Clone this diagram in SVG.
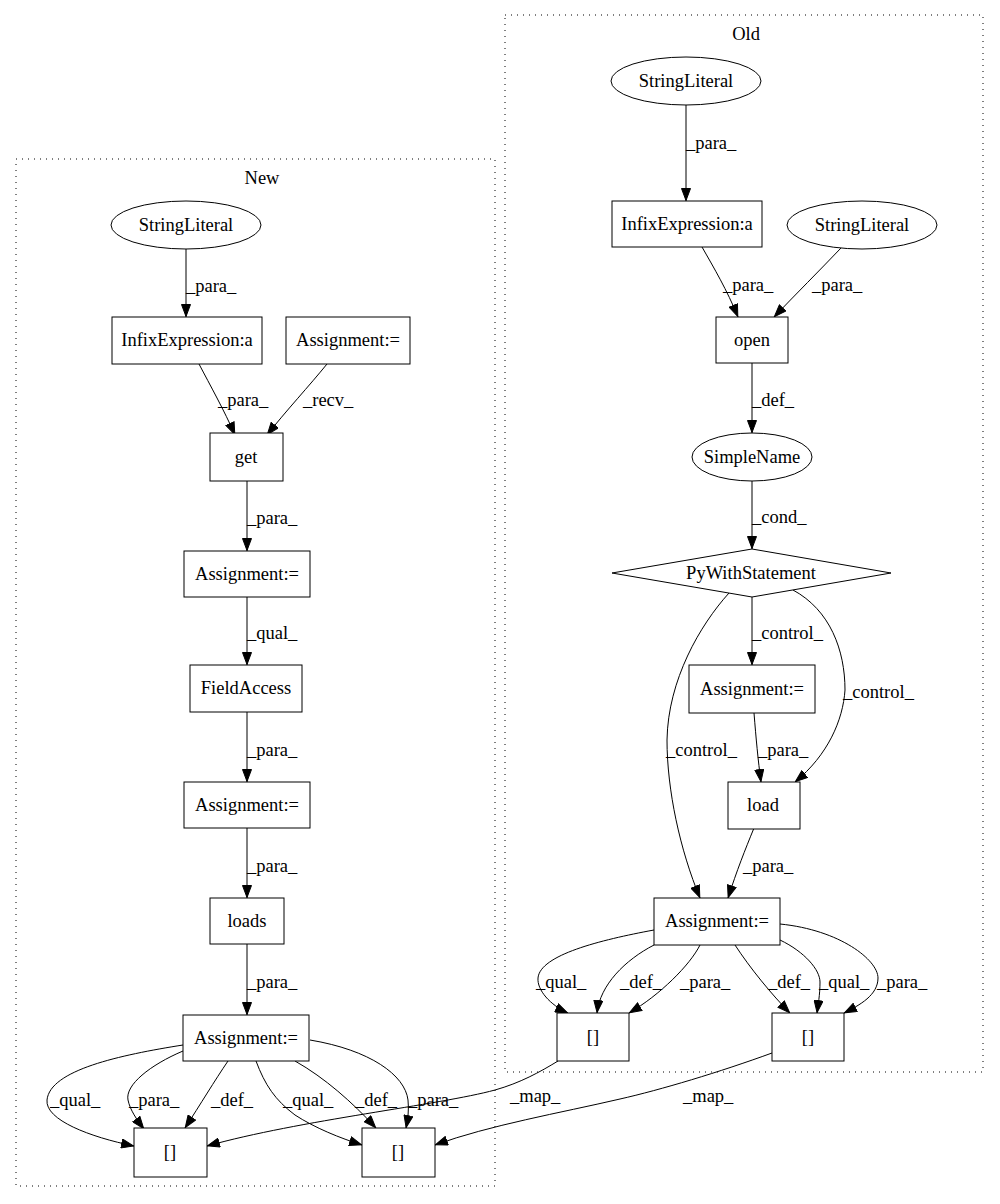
<svg xmlns="http://www.w3.org/2000/svg" width="1000" height="1204" viewBox="0 0 1000 1204">
  <style>
    text { font-family: "Liberation Serif", "Times New Roman", serif; font-size: 18.5px; fill: #000; }
    .n { text-anchor: middle; }
    .node rect, .node ellipse, .node polygon { fill: #fff; stroke: #000; stroke-width: 1; }
    .cluster rect { fill: none; stroke: #000; stroke-width: 1; stroke-dasharray: 1 5; }
    .edges path { fill: none; stroke: #000; stroke-width: 1; marker-end: url(#arr); }
  </style>
  <defs>
    <marker id="arr" markerWidth="13" markerHeight="10" refX="13" refY="5" orient="auto" markerUnits="userSpaceOnUse">
      <path d="M0.5,0.5 L12.5,5 L0.5,9.5 Z" fill="#000" stroke="#000" stroke-width="1"/>
    </marker>
  </defs>
  <rect width="1000" height="1204" fill="#fff"/>

  <!-- clusters -->
  <g class="cluster" id="cluster_new">
    <rect x="16" y="159" width="479" height="1027"/>
    <text class="n" x="262" y="184">New</text>
  </g>
  <g class="cluster" id="cluster_old">
    <rect x="505" y="15" width="478" height="1057"/>
    <text class="n" x="746" y="40">Old</text>
  </g>

  <!-- connectors -->
  <g class="edges" id="edges">
    <!-- New -->
    <path d="M186,249 L186,317"/>
    <text x="186" y="292">_para_</text>
    <path d="M199,364 C210,385 224,410 235,435"/>
    <text x="218" y="406">_para_</text>
    <path d="M327,364 C310,385 285,412 267,435"/>
    <text x="303" y="406">_recv_</text>
    <path d="M247,481 L247,551"/>
    <text x="247" y="524">_para_</text>
    <path d="M247,597 L247,665"/>
    <text x="247" y="639">_qual_</text>
    <path d="M247,712 L247,782"/>
    <text x="247" y="756">_para_</text>
    <path d="M247,828 L247,898"/>
    <text x="247" y="872">_para_</text>
    <path d="M247,944 L247,1015"/>
    <text x="247" y="988">_para_</text>

    <path d="M183,1045 C120,1055 50,1070 47,1100 C45,1120 90,1137 134,1146"/>
    <text x="50" y="1106">_qual_</text>
    <path d="M183,1051 C150,1065 125,1085 128,1100 C130,1110 137,1120 144,1129"/>
    <text x="129" y="1106">_para_</text>
    <path d="M228,1061 C215,1080 200,1105 185,1128"/>
    <text x="211" y="1106">_def_</text>
    <path d="M256,1061 C265,1085 275,1100 295,1115 C315,1128 340,1138 362,1145"/>
    <text x="283" y="1106">_qual_</text>
    <path d="M295,1061 C325,1078 352,1102 376,1128"/>
    <text x="355" y="1106">_def_</text>
    <path d="M310,1040 C370,1050 405,1075 408,1100 C409,1110 408,1118 406,1128"/>
    <text x="408" y="1106">_para_</text>

    <path d="M558,1061 C540,1072 520,1083 495,1090 C440,1105 300,1120 207,1146"/>
    <text x="510" y="1102">_map_</text>
    <path d="M772,1053 C720,1072 660,1090 620,1099 C560,1113 490,1125 435,1145"/>
    <text x="683" y="1102">_map_</text>

    <!-- Old -->
    <path d="M686,105 L686,201"/>
    <text x="686" y="149">_para_</text>
    <path d="M702,247 C714,268 727,290 738,317"/>
    <text x="723" y="291">_para_</text>
    <path d="M841,248 C820,270 795,295 774,317"/>
    <text x="812" y="291">_para_</text>
    <path d="M752,363 L752,433"/>
    <text x="752" y="406">_def_</text>
    <path d="M752,481 L752,549"/>
    <text x="752" y="523">_cond_</text>
    <path d="M752,597 L752,665"/>
    <text x="752" y="639">_control_</text>
    <path d="M793,590 C830,610 845,650 845,690 C843,720 828,755 795,782"/>
    <text x="843" y="698">_control_</text>
    <path d="M729,593 C700,625 668,680 667,740 C667,790 680,850 700,898"/>
    <text x="666" y="756">_control_</text>
    <path d="M754,713 C756,738 758,760 761,782"/>
    <text x="758" y="756">_para_</text>
    <path d="M754,828 C745,850 737,870 728,898"/>
    <text x="743" y="872">_para_</text>

    <path d="M654,930 C600,940 540,955 538,978 C537,990 550,1005 568,1013"/>
    <text x="536" y="988">_qual_</text>
    <path d="M654,945 C625,960 600,985 597,1013"/>
    <text x="620" y="988">_def_</text>
    <path d="M700,945 C690,965 660,995 629,1013"/>
    <text x="680" y="988">_para_</text>
    <path d="M735,945 C750,968 772,995 790,1013"/>
    <text x="768" y="988">_def_</text>
    <path d="M780,940 C805,952 820,970 820,982 C820,995 818,1005 817,1013"/>
    <text x="819" y="988">_qual_</text>
    <path d="M780,924 C840,930 878,960 878,978 C878,995 860,1005 844,1013"/>
    <text x="877" y="988">_para_</text>
  </g>

  <!-- New nodes -->
  <g class="node" id="new_stringliteral"><ellipse cx="186" cy="225" rx="75" ry="24"/><text class="n" x="186" y="231">StringLiteral</text></g>
  <g class="node" id="new_infix"><rect x="112" y="317" width="150" height="47"/><text class="n" x="187" y="346">InfixExpression:a</text></g>
  <g class="node" id="new_assign_recv"><rect x="286" y="317" width="124" height="47"/><text class="n" x="348" y="346">Assignment:=</text></g>
  <g class="node" id="new_get"><rect x="210" y="433" width="73" height="48"/><text class="n" x="246" y="463">get</text></g>
  <g class="node" id="new_assign_get"><rect x="184" y="551" width="126" height="46"/><text class="n" x="247" y="580">Assignment:=</text></g>
  <g class="node" id="new_fieldaccess"><rect x="190" y="665" width="112" height="47"/><text class="n" x="246" y="694">FieldAccess</text></g>
  <g class="node" id="new_assign_field"><rect x="184" y="782" width="126" height="46"/><text class="n" x="247" y="811">Assignment:=</text></g>
  <g class="node" id="new_loads"><rect x="210" y="898" width="74" height="46"/><text class="n" x="247" y="927">loads</text></g>
  <g class="node" id="new_assign_loads"><rect x="183" y="1015" width="126" height="46"/><text class="n" x="246" y="1044">Assignment:=</text></g>
  <g class="node" id="new_index_a"><rect x="134" y="1128" width="73" height="49"/><text class="n" x="170" y="1158">[]</text></g>
  <g class="node" id="new_index_b"><rect x="362" y="1128" width="73" height="49"/><text class="n" x="398" y="1158">[]</text></g>

  <!-- Old nodes -->
  <g class="node" id="old_stringliteral_a"><ellipse cx="686" cy="81" rx="75" ry="24"/><text class="n" x="686" y="87">StringLiteral</text></g>
  <g class="node" id="old_infix"><rect x="612" y="201" width="150" height="46"/><text class="n" x="687" y="230">InfixExpression:a</text></g>
  <g class="node" id="old_stringliteral_b"><ellipse cx="862" cy="225" rx="75" ry="24"/><text class="n" x="862" y="231">StringLiteral</text></g>
  <g class="node" id="old_open"><rect x="716" y="317" width="72" height="46"/><text class="n" x="752" y="346">open</text></g>
  <g class="node" id="old_simplename"><ellipse cx="752" cy="457" rx="60" ry="24"/><text class="n" x="752" y="463">SimpleName</text></g>
  <g class="node" id="old_with"><polygon points="752,549 891,573 752,597 612,573"/><text class="n" x="751" y="579">PyWithStatement</text></g>
  <g class="node" id="old_assign_mid"><rect x="689" y="665" width="126" height="48"/><text class="n" x="752" y="695">Assignment:=</text></g>
  <g class="node" id="old_load"><rect x="728" y="782" width="72" height="47"/><text class="n" x="763" y="811">load</text></g>
  <g class="node" id="old_assign_bottom"><rect x="654" y="898" width="126" height="47"/><text class="n" x="717" y="927">Assignment:=</text></g>
  <g class="node" id="old_index_a"><rect x="557" y="1013" width="72" height="48"/><text class="n" x="593" y="1043">[]</text></g>
  <g class="node" id="old_index_b"><rect x="772" y="1013" width="72" height="48"/><text class="n" x="808" y="1043">[]</text></g>
</svg>
